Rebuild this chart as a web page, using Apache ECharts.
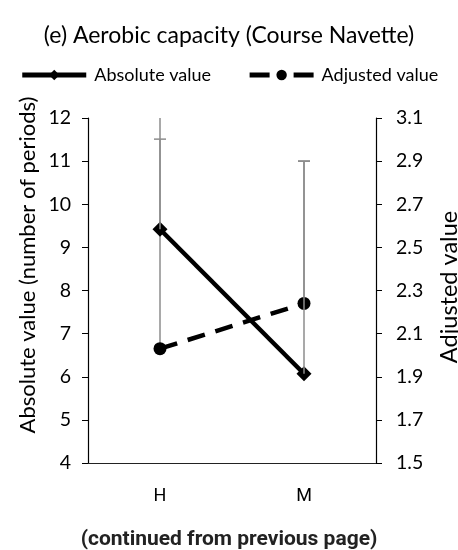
<!DOCTYPE html>
<html>
<head>
<meta charset="utf-8">
<script src="https://cdn.jsdelivr.net/npm/echarts@6/dist/echarts.min.js"></script>
<style>
html,body{margin:0;padding:0;background:#fff;}
#chart{width:458px;height:550px;}
</style>
</head>
<body>
<div id="chart"></div>
<script>
const categories = ['H', 'M'];
const absoluteValues = [9.42, 6.07];
const adjustedValues = [2.03, 2.24];
const absoluteUpper = [11.51, 11.0];
const adjustedUpper = [3.3, 2.9];
const leftTicks = {min: 4, max: 12, interval: 1};
const rightTicks = {min: 1.5, max: 3.1, interval: 0.2};

const FONT = 'Lato';
const chart = echarts.init(document.getElementById('chart'), null, {renderer: 'canvas'});

function errorRender(params, api) {
  const base = api.coord([api.value(0), api.value(1)]);
  const top = api.coord([api.value(0), api.value(2)]);
  const cs = params.coordSys;
  let yTop = top[1];
  let clipped = false;
  if (yTop < cs.y) { yTop = cs.y; clipped = true; }
  const children = [{
    type: 'line',
    shape: {x1: base[0], y1: base[1], x2: base[0], y2: yTop},
    style: {stroke: '#8c8c8c', lineWidth: 1.5}
  }];
  if (!clipped) {
    children.push({
      type: 'line',
      shape: {x1: base[0] - 6, y1: yTop, x2: base[0] + 6, y2: yTop},
      style: {stroke: '#8c8c8c', lineWidth: 1.5}
    });
  }
  return {type: 'group', children: children};
}

const option = {
  backgroundColor: '#fff',
  animation: false,
  title: {
    text: '(e) Aerobic capacity (Course Navette)',
    left: 'center',
    top: 19,
    textStyle: {fontFamily: FONT, fontSize: 23, fontWeight: 'normal', color: '#000'}
  },
  legend: {
    top: 61,
    left: 'center',
    itemWidth: 64,
    itemHeight: 13,
    itemGap: 36,
    lineStyle: {width: 5},
    textStyle: {fontFamily: FONT, fontSize: 18, color: '#000', padding: [0, 0, 0, 3]},
    data: [
      {name: 'Absolute value'},
      {name: 'Adjusted value', lineStyle: {width: 5, type: [20, 24]}}
    ]
  },
  graphic: [{
    type: 'text',
    x: 229, y: 540,
    style: {text: '(continued from previous page)', font: 'bold 21px Roboto', fill: '#222',
      align: 'center', verticalAlign: 'middle'}
  }, {
    type: 'text',
    x: 28, y: 265,
    rotation: Math.PI / 2,
    style: {text: 'Absolute value (number of periods)', font: '22px Lato', fill: '#000',
      align: 'center', verticalAlign: 'middle'}
  }, {
    type: 'text',
    x: 449, y: 287,
    rotation: Math.PI / 2,
    style: {text: 'Adjusted value', font: '23.5px Lato', fill: '#000',
      align: 'center', verticalAlign: 'middle'}
  }],
  grid: {left: 88, right: 82, top: 118, bottom: 87},
  xAxis: {
    type: 'category',
    data: categories,
    boundaryGap: true,
    axisLine: {lineStyle: {color: '#222', width: 1.2}},
    axisTick: {show: false},
    axisLabel: {fontFamily: 'Roboto', fontSize: 18, color: '#000', margin: 24}
  },
  yAxis: [{
    type: 'value',
    min: leftTicks.min, max: leftTicks.max, interval: leftTicks.interval,
    position: 'left',
    axisLine: {show: true, lineStyle: {color: '#000', width: 1.2}},
    axisTick: {show: true, inside: false, length: 6, lineStyle: {color: '#000'}},
    axisLabel: {fontFamily: FONT, fontSize: 19.5, color: '#000', margin: 17},
    splitLine: {show: false}
  }, {
    type: 'value',
    min: rightTicks.min, max: rightTicks.max, interval: rightTicks.interval,
    position: 'right',
    axisLine: {show: true, lineStyle: {color: '#000', width: 1.2}},
    axisTick: {show: true, inside: false, length: 6, lineStyle: {color: '#000'}},
    axisLabel: {fontFamily: FONT, fontSize: 19.5, color: '#000', margin: 20,
      formatter: v => v.toFixed(1)},
    splitLine: {show: false}
  }],
  series: [{
    name: 'Absolute value',
    type: 'line',
    yAxisIndex: 0,
    data: absoluteValues,
    symbol: 'diamond',
    symbolSize: 15,
    itemStyle: {color: '#000'},
    lineStyle: {color: '#000', width: 4.5, type: 'solid'},
    z: 3
  }, {
    name: 'Adjusted value',
    type: 'line',
    yAxisIndex: 1,
    data: adjustedValues,
    symbol: 'circle',
    symbolSize: 13,
    itemStyle: {color: '#000'},
    lineStyle: {color: '#000', width: 4.5, type: [18, 11]},
    z: 3
  }, {
    type: 'custom',
    yAxisIndex: 0,
    renderItem: errorRender,
    data: categories.map((c, i) => [i, absoluteValues[i], absoluteUpper[i]]),
    z: 4,
    silent: true
  }, {
    type: 'custom',
    yAxisIndex: 1,
    renderItem: errorRender,
    data: categories.map((c, i) => [i, adjustedValues[i], adjustedUpper[i]]),
    z: 2,
    silent: true
  }]
};
chart.setOption(option);
</script>
</body>
</html>
